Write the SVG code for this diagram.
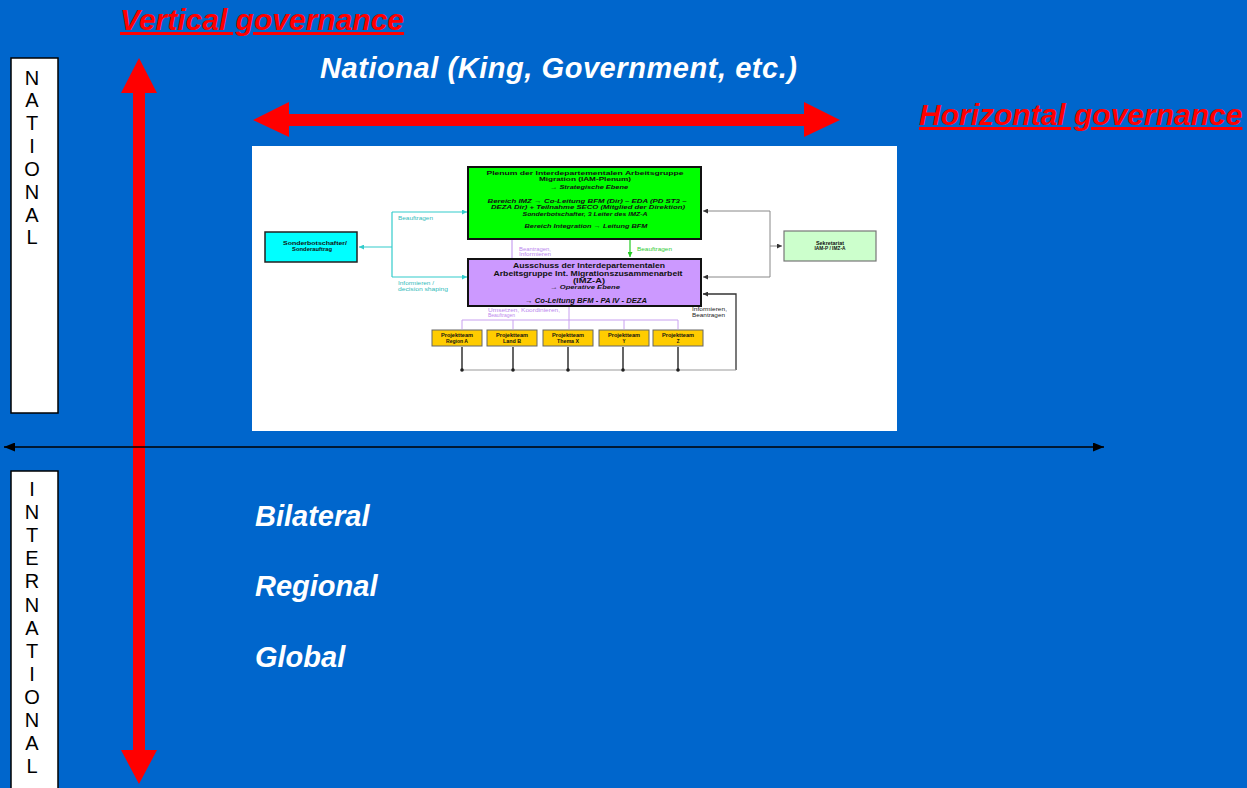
<svg xmlns="http://www.w3.org/2000/svg" width="1247" height="788" viewBox="0 0 1247 788">
<defs>
<style>
.f{font-family:"Liberation Sans",Arial,sans-serif}
.hd{font-family:"Liberation Sans",Arial,sans-serif;font-weight:bold;font-style:italic}
.red{fill:#ff0000;text-decoration:underline;font-size:30px}
.wh{fill:#ffffff;font-size:29px}
.side{font-family:"Liberation Sans",Arial,sans-serif;font-size:20px;fill:#000;text-anchor:middle}
.sbox{fill:#ffffff;stroke:#000;stroke-width:1.5}
.nb{stroke:#111;stroke-width:2}
.bx{font-family:"Liberation Sans",Arial,sans-serif;fill:#111;text-anchor:middle;font-weight:bold}
.sm{font-family:"Liberation Sans",Arial,sans-serif;font-size:4.5px}
.it{font-style:italic}
.ln{fill:none}
</style>
<marker id="axh" viewBox="0 0 11 9" refX="11" refY="4.5" markerWidth="11" markerHeight="9" markerUnits="userSpaceOnUse" orient="auto-start-reverse"><path d="M0,0L11,4.5L0,9z" fill="#000"/></marker>
<marker id="ahC" viewBox="0 0 10 10" refX="10" refY="5" markerWidth="5" markerHeight="5" markerUnits="userSpaceOnUse" orient="auto"><path d="M0,0L10,5L0,10z" fill="#33cccc"/></marker>
<marker id="ahG" viewBox="0 0 10 10" refX="10" refY="5" markerWidth="5" markerHeight="5" markerUnits="userSpaceOnUse" orient="auto"><path d="M0,0L10,5L0,10z" fill="#333"/></marker>
<marker id="ahN" viewBox="0 0 10 10" refX="10" refY="5" markerWidth="5" markerHeight="5" markerUnits="userSpaceOnUse" orient="auto"><path d="M0,0L10,5L0,10z" fill="#22cc22"/></marker>
</defs>

<rect width="1247" height="788" fill="#0066cc"/>

<g id="titles">
<text class="hd red" x="120" y="30">Vertical governance</text>
<text class="hd red" x="919" y="125">Horizontal governance</text>
<text class="hd wh" x="320" y="78" textLength="477">National (King, Government, etc.)</text>
<text class="hd wh" x="255" y="526">Bilateral</text>
<text class="hd wh" x="255" y="596">Regional</text>
<text class="hd wh" x="255" y="667">Global</text>
</g>

<g id="national-label">
<rect class="sbox" x="11" y="58" width="47" height="355"/>
<text class="side" x="32" y="84.5">N</text>
<text class="side" x="32" y="107.3">A</text>
<text class="side" x="32" y="130.2">T</text>
<text class="side" x="32" y="153">I</text>
<text class="side" x="32" y="175.9">O</text>
<text class="side" x="32" y="198.7">N</text>
<text class="side" x="32" y="221.6">A</text>
<text class="side" x="32" y="244.4">L</text>
</g>

<g id="international-label">
<rect class="sbox" x="11" y="471" width="47" height="330"/>
<text class="side" x="32" y="496">I</text>
<text class="side" x="32" y="519.1">N</text>
<text class="side" x="32" y="542.2">T</text>
<text class="side" x="32" y="565.3">E</text>
<text class="side" x="32" y="588.4">R</text>
<text class="side" x="32" y="611.5">N</text>
<text class="side" x="32" y="634.6">A</text>
<text class="side" x="32" y="657.7">T</text>
<text class="side" x="32" y="680.8">I</text>
<text class="side" x="32" y="703.9">O</text>
<text class="side" x="32" y="727">N</text>
<text class="side" x="32" y="750.1">A</text>
<text class="side" x="32" y="773.2">L</text>
</g>

<g id="axes">
<polygon fill="#ff0000" points="139,58 157,93 145,93 145,750 157,750 139,784 121,750 133,750 133,93 121,93"/>
<polygon fill="#ff0000" points="253,120 289,102 289,114 804,114 804,102 840,120 804,137 804,126 289,126 289,137"/>
<line x1="4" y1="447" x2="1104" y2="447" stroke="#000" stroke-width="1.5" marker-start="url(#axh)" marker-end="url(#axh)"/>
</g>

<g id="org-chart">
<rect x="252" y="146" width="645" height="285" fill="#ffffff"/>

<g id="connectors">
<path class="ln" d="M392,212V277" stroke="#33cccc" stroke-width="1.2"/>
<path class="ln" d="M392,247H359" stroke="#33cccc" stroke-width="1.2" marker-end="url(#ahC)"/>
<path class="ln" d="M392,212H467" stroke="#33cccc" stroke-width="1.2" marker-end="url(#ahC)"/>
<path class="ln" d="M392,277H467" stroke="#33cccc" stroke-width="1.2" marker-end="url(#ahC)"/>
<path class="ln" d="M512,240V258" stroke="#c8a0f0" stroke-width="1.2"/>
<path class="ln" d="M630,240V257" stroke="#22cc22" stroke-width="1.2" marker-end="url(#ahN)"/>
<path class="ln" d="M770,211V277" stroke="#888" stroke-width="1"/>
<path class="ln" d="M770,211H703" stroke="#888" stroke-width="1" marker-end="url(#ahG)"/>
<path class="ln" d="M770,277H703" stroke="#888" stroke-width="1" marker-end="url(#ahG)"/>
<path class="ln" d="M770,246H782" stroke="#888" stroke-width="1" marker-end="url(#ahG)"/>
<path class="ln" d="M569,306V320M462,320H678M462,320V329M513,320V329M569,320V329M624,320V329M678,320V329" stroke="#c8a0f0" stroke-width="1"/>
<path class="ln" d="M736,370V294H703" stroke="#333" stroke-width="1.3" marker-end="url(#ahG)"/>
<path class="ln" d="M462,370H736" stroke="#999" stroke-width="1.2"/>
<path class="ln" d="M462,347V370M513,347V370M568,347V370M623,347V370M678,347V370" stroke="#333" stroke-width="1.5"/>
<g fill="#222">
<circle cx="462" cy="370" r="1.8"/><circle cx="513" cy="370" r="1.8"/><circle cx="568" cy="370" r="1.8"/><circle cx="623" cy="370" r="1.8"/><circle cx="678" cy="370" r="1.8"/>
</g>
<text class="sm" x="398" y="220" fill="#33bbbb" textLength="35" lengthAdjust="spacingAndGlyphs">Beauftragen</text>
<text class="sm" x="398" y="284.5" fill="#33bbbb" textLength="36" lengthAdjust="spacingAndGlyphs">Informieren /</text>
<text class="sm" x="398" y="290.5" fill="#33bbbb" textLength="50" lengthAdjust="spacingAndGlyphs">decision shaping</text>
<text class="sm" x="519" y="250.5" fill="#bb88ee" textLength="32" lengthAdjust="spacingAndGlyphs">Beantragen,</text>
<text class="sm" x="519" y="256" fill="#bb88ee" textLength="32" lengthAdjust="spacingAndGlyphs">Informieren</text>
<text class="sm" x="637" y="251" fill="#33cc33" textLength="35" lengthAdjust="spacingAndGlyphs">Beauftragen</text>
<text class="sm" x="488" y="311.5" fill="#bb88ee" textLength="72" lengthAdjust="spacingAndGlyphs">Umsetzen, Koordinieren,</text>
<text class="sm" x="488" y="317" fill="#bb88ee" textLength="27" lengthAdjust="spacingAndGlyphs">Beauftragen</text>
<text class="sm" x="692" y="311" fill="#222" textLength="35" lengthAdjust="spacingAndGlyphs">Informieren,</text>
<text class="sm" x="692" y="316.5" fill="#222" textLength="33" lengthAdjust="spacingAndGlyphs">Beantragen</text>
</g>

<g id="plenum">
<rect class="nb" x="468" y="167" width="233" height="72" fill="#00ff00"/>
<text class="bx" x="585" y="175" font-size="6" textLength="197" lengthAdjust="spacingAndGlyphs">Plenum der Interdepartementalen Arbeitsgruppe</text>
<text class="bx" x="585" y="181" font-size="6" textLength="92" lengthAdjust="spacingAndGlyphs">Migration (IAM-Plenum)</text>
<text class="bx it" x="589" y="189" font-size="5.5" textLength="78" lengthAdjust="spacingAndGlyphs">→ Strategische Ebene</text>
<text class="bx it" x="587" y="203" font-size="6" textLength="199" lengthAdjust="spacingAndGlyphs">Bereich IMZ → Co-Leitung BFM (Dir) – EDA (PD ST3 –</text>
<text class="bx it" x="588" y="209" font-size="6" textLength="194" lengthAdjust="spacingAndGlyphs">DEZA Dir) + Teilnahme SECO (Mitglied der Direktion)</text>
<text class="bx it" x="585" y="216" font-size="6" textLength="125" lengthAdjust="spacingAndGlyphs">Sonderbotschafter, 3 Leiter des IMZ-A</text>
<text class="bx it" x="586" y="228" font-size="6" textLength="123" lengthAdjust="spacingAndGlyphs">Bereich Integration → Leitung BFM</text>
</g>

<g id="ausschuss">
<rect class="nb" x="468" y="259" width="233" height="47" fill="#cc99ff"/>
<text class="bx" x="589" y="267.5" font-size="7" textLength="152" lengthAdjust="spacingAndGlyphs">Ausschuss der Interdepartementalen</text>
<text class="bx" x="588" y="275.5" font-size="7" textLength="189" lengthAdjust="spacingAndGlyphs">Arbeitsgruppe Int. Migrationszusammenarbeit</text>
<text class="bx" x="589" y="282.5" font-size="7" textLength="32" lengthAdjust="spacingAndGlyphs">(IMZ-A)</text>
<text class="bx it" x="585" y="289" font-size="5.5" textLength="70" lengthAdjust="spacingAndGlyphs">→ Operative Ebene</text>
<text class="bx it" x="586" y="302.5" font-size="6.5" textLength="122" lengthAdjust="spacingAndGlyphs">→ Co-Leitung BFM - PA IV - DEZA</text>
</g>

<g id="sonderbotschafter">
<rect x="265" y="232" width="92" height="30" fill="#00ffff" stroke="#222" stroke-width="1.5"/>
<text class="bx" x="315" y="245" font-size="5" textLength="64" lengthAdjust="spacingAndGlyphs">Sonderbotschafter/</text>
<text class="bx" x="312" y="251" font-size="5" textLength="40" lengthAdjust="spacingAndGlyphs">Sonderauftrag</text>
</g>

<g id="sekretariat">
<rect x="784" y="231" width="92" height="30" fill="#ccffcc" stroke="#777" stroke-width="1.2"/>
<text class="bx" x="830" y="244.5" font-size="4.5" textLength="28" lengthAdjust="spacingAndGlyphs">Sekretariat</text>
<text class="bx" x="830" y="249.5" font-size="4.5" textLength="31" lengthAdjust="spacingAndGlyphs">IAM-P / IMZ-A</text>
</g>

<g id="team-region-a">
<rect x="432" y="330" width="50" height="16" fill="#ffcc00" stroke="#666" stroke-width="1"/>
<text class="bx" x="457" y="337" font-size="4.5" textLength="32" lengthAdjust="spacingAndGlyphs">Projektteam</text>
<text class="bx" x="457" y="342.5" font-size="4.5" textLength="22" lengthAdjust="spacingAndGlyphs">Region A</text>
</g>
<g id="team-land-b">
<rect x="487" y="330" width="50" height="16" fill="#ffcc00" stroke="#666" stroke-width="1"/>
<text class="bx" x="512" y="337" font-size="4.5" textLength="32" lengthAdjust="spacingAndGlyphs">Projektteam</text>
<text class="bx" x="512" y="342.5" font-size="4.5" textLength="18" lengthAdjust="spacingAndGlyphs">Land B</text>
</g>
<g id="team-thema-x">
<rect x="543" y="330" width="50" height="16" fill="#ffcc00" stroke="#666" stroke-width="1"/>
<text class="bx" x="568" y="337" font-size="4.5" textLength="32" lengthAdjust="spacingAndGlyphs">Projektteam</text>
<text class="bx" x="568" y="342.5" font-size="4.5" textLength="22" lengthAdjust="spacingAndGlyphs">Thema X</text>
</g>
<g id="team-y">
<rect x="599" y="330" width="50" height="16" fill="#ffcc00" stroke="#666" stroke-width="1"/>
<text class="bx" x="624" y="337" font-size="4.5" textLength="32" lengthAdjust="spacingAndGlyphs">Projektteam</text>
<text class="bx" x="624" y="342.5" font-size="4.5">Y</text>
</g>
<g id="team-z">
<rect x="653" y="330" width="50" height="16" fill="#ffcc00" stroke="#666" stroke-width="1"/>
<text class="bx" x="678" y="337" font-size="4.5" textLength="32" lengthAdjust="spacingAndGlyphs">Projektteam</text>
<text class="bx" x="678" y="342.5" font-size="4.5">Z</text>
</g>
</g>
</svg>
